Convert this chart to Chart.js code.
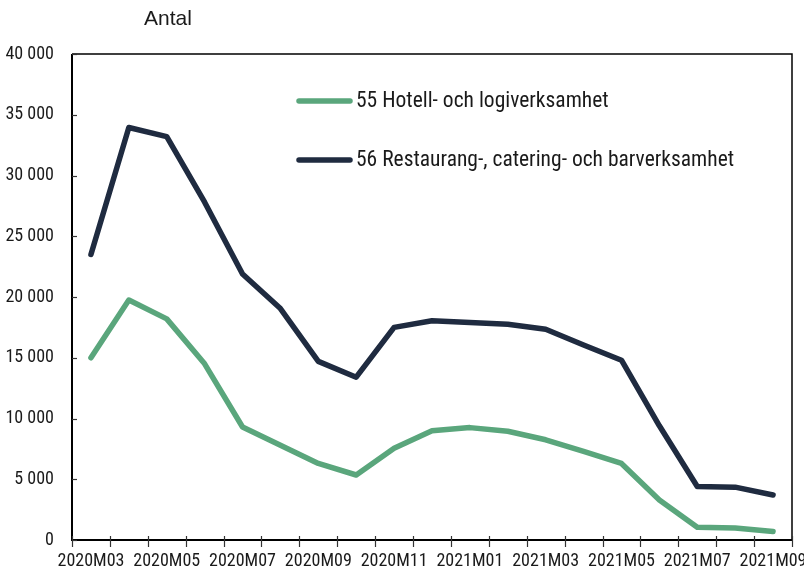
<!DOCTYPE html>
<html>
<head>
<meta charset="utf-8">
<script src="https://cdn.jsdelivr.net/npm/chart.js@4/dist/chart.umd.min.js"></script>
<style>
html,body{margin:0;padding:0;background:#fff;}
canvas{display:block;}
</style>
</head>
<body>
<canvas id="c" width="804" height="573"></canvas>
<script>
const months = ["2020M03","2020M04","2020M05","2020M06","2020M07","2020M08","2020M09","2020M10","2020M11","2020M12","2021M01","2021M02","2021M03","2021M04","2021M05","2021M06","2021M07","2021M08","2021M09"];
const hotell = [15000,19750,18200,14500,9300,7800,6300,5350,7550,9000,9250,8950,8250,7300,6300,3300,1050,980,700];
const restaurang = [23500,33950,33200,27800,21900,19050,14700,13400,17500,18050,17900,17750,17350,16050,14800,9400,4400,4350,3700];
const seriesNames = ["55 Hotell- och logiverksamhet","56 Restaurang-, catering- och barverksamhet"];
const yTicks = [0,5000,10000,15000,20000,25000,30000,35000,40000];
const unitTitle = "Antal";

const GREEN = "#5aa67c";
const NAVY = "#1f2b40";
const TEXT = "#1a1a1a";
const NARROW = "'Roboto Condensed', 'DejaVu Sans Condensed'";

function fmt(v){ return String(v).replace(/\B(?=(\d{3})+(?!\d))/g, " "); }

const decor = {
  id: "decor",
  afterDraw(chart){
    const ctx = chart.ctx;
    const a = chart.chartArea;
    const xs = chart.scales.x, ys = chart.scales.y;
    ctx.save();
    ctx.strokeStyle = "#000";
    ctx.lineWidth = 1.5;
    ctx.beginPath();
    ctx.moveTo(a.left, a.top); ctx.lineTo(a.right, a.top); ctx.lineTo(a.right, a.bottom);
    ctx.stroke();
    ctx.lineWidth = 2;
    ctx.beginPath();
    ctx.moveTo(a.left, a.top); ctx.lineTo(a.left, a.bottom); ctx.lineTo(a.right, a.bottom);
    ctx.stroke();
    ctx.lineWidth = 1.2;
    ctx.strokeStyle = "#333";
    yTicks.forEach(v=>{
      const y = Math.round(ys.getPixelForValue(v))+0.5;
      ctx.beginPath(); ctx.moveTo(a.left, y); ctx.lineTo(a.left+5, y); ctx.stroke();
    });
    const step = xs.getPixelForValue(1) - xs.getPixelForValue(0);
    for (let i=0;i<=months.length;i++){
      const x = Math.round(xs.getPixelForValue(0) - step/2 + i*step)+0.5;
      ctx.beginPath(); ctx.moveTo(x, a.bottom-4); ctx.lineTo(x, a.bottom+7); ctx.stroke();
    }
    ctx.fillStyle = TEXT;
    ctx.font = "21px 'Liberation Sans'";
    ctx.textAlign = "center"; ctx.textBaseline = "middle";
    ctx.fillText(unitTitle, 168, 19);
    ctx.font = "21.5px " + NARROW;
    ctx.textAlign = "left";
    chart.data.datasets.forEach((ds, i)=>{
      const y = 101 + i*59;
      ctx.strokeStyle = ds.borderColor;
      ctx.lineWidth = 5.5; ctx.lineCap = "round";
      ctx.beginPath(); ctx.moveTo(299, y); ctx.lineTo(350, y); ctx.stroke();
      ctx.fillStyle = TEXT;
      ctx.fillText(ds.label, 356, y+1);
    });
    ctx.restore();
  }
};

function zeroPad(s){ s.paddingLeft = 0; s.paddingRight = 0; s.paddingTop = 0; s.paddingBottom = 0; }

function build(){
  const chart = new Chart(document.getElementById("c"), {
    type: "line",
    data: {
      labels: months,
      datasets: [
        {label: seriesNames[0], data: hotell, borderColor: GREEN, backgroundColor: GREEN, borderWidth: 5.5, pointRadius: 0, tension: 0, borderCapStyle: "round", borderJoinStyle: "round"},
        {label: seriesNames[1], data: restaurang, borderColor: NAVY, backgroundColor: NAVY, borderWidth: 5.5, pointRadius: 0, tension: 0, borderCapStyle: "round", borderJoinStyle: "round"}
      ]
    },
    options: {
      responsive: false,
      animation: false,
      layout: {padding: {top: 54, right: 12, left: 0, bottom: 0}},
      plugins: {legend: {display: false}, title: {display: false}, tooltip: {enabled: false}},
      scales: {
        x: {
          type: "category",
          offset: true,
          grid: {display: false, drawTicks: false},
          border: {display: false},
          ticks: {
            autoSkip: false, maxRotation: 0, minRotation: 0, padding: 11,
            color: TEXT, font: {family: NARROW, size: 18},
            callback: function(v, i){ return i % 2 === 0 ? months[i] : ""; }
          },
          afterFit(s){ s.height = 33; zeroPad(s); }
        },
        y: {
          min: 0, max: 40000,
          grid: {display: false, drawTicks: false},
          border: {display: false},
          afterBuildTicks(s){ s.ticks = yTicks.map(v=>({value: v})); },
          ticks: {
            padding: 18, color: TEXT, font: {family: NARROW, size: 18},
            callback: v => fmt(v)
          },
          afterFit(s){ s.width = 72; zeroPad(s); }
        }
      }
    },
    plugins: [decor]
  });
  setTimeout(()=>chart.update(), 200);
}
const fl = document.fonts && document.fonts.load ? document.fonts.load("18px 'Roboto Condensed'").catch(()=>{}) : Promise.resolve();
fl.then(build, build);
</script>
</body>
</html>
